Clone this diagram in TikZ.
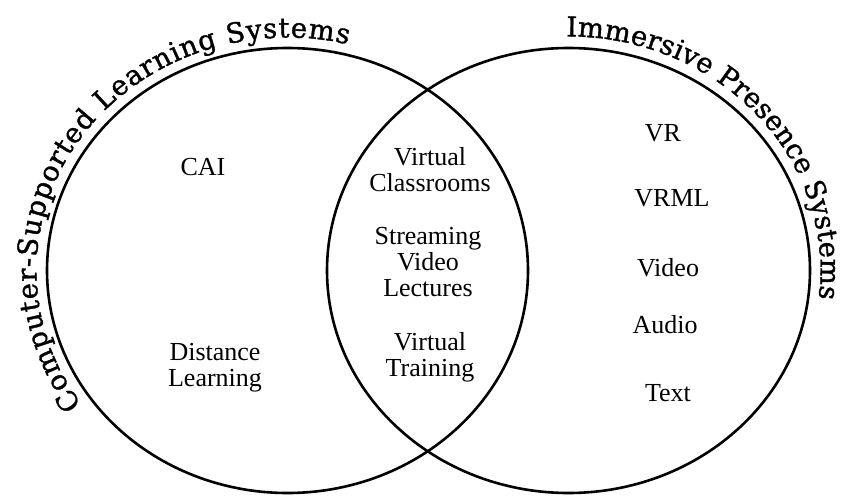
\documentclass[tikz,border=0pt]{standalone}
\usepackage{fontspec}
\setmainfont{Liberation Serif}
\newfontfamily\arcfont[FakeBold=1.2]{DejaVu Serif}
\usetikzlibrary{decorations.text}
\begin{document}
\begin{tikzpicture}
[x=1pt,y=1pt,
ring/.style={line width=2.6pt},
item/.style={align=center,font=\fontsize{26}{26}\selectfont,inner sep=0pt},
title/.style={decorate,decoration={text along path,text format delimiters={|}{|},text align=fit to path}}]
\useasboundingbox (0,0) rectangle (841,496);
\draw[ring] (287.5,225.5) ellipse [x radius=240.5,y radius=222.5];
\draw[ring] (568.5,225.5) ellipse [x radius=241.5,y radius=222.5];
% titles along the rings
\path[title,decoration={text={|\arcfont\fontsize{27.5}{27.5}\selectfont|Computer-Supported Learning Systems}}]
  (287.5,225.5) ++(215:251 and 233) arc [start angle=215,end angle=76,x radius=251,y radius=233];
\path[title,decoration={text={|\arcfont\fontsize{27.5}{27.5}\selectfont|Immersive Presence Systems}}]
  (568.5,225.5) ++(90.5:252 and 234) arc [start angle=90.5,end angle=-7,x radius=252,y radius=234];
% left set
\node[item] (cai) at (203,329) {CAI};
\node[item] (dist) at (215,128.5) {Distance\\Learning};
% both sets
\node[item] (vclass) at (430,326) {Virtual\\Classrooms};
\node[item] (stream) at (428,233.5) {Streaming\\Video\\Lectures};
\node[item] (vtrain) at (430,138.5) {Virtual\\Training};
% right set
\node[item] (vr) at (663,363) {VR};
\node[item] (vrml) at (672,298) {VRML};
\node[item] (video) at (668,228.5) {Video};
\node[item] (audio) at (665,171) {Audio};
\node[item] (text) at (668,103) {Text};
\end{tikzpicture}
\end{document}
